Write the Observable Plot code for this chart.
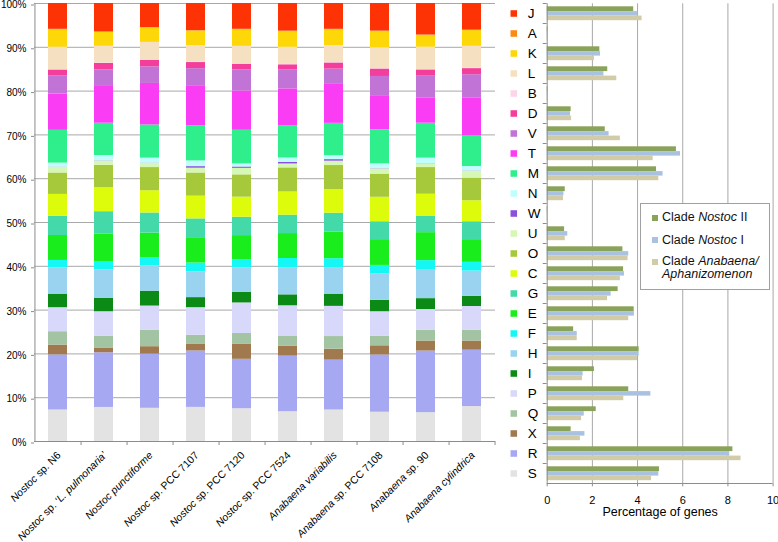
<!DOCTYPE html>
<html>
<head>
<meta charset="utf-8">
<script src="https://cdn.jsdelivr.net/npm/d3@7"></script>
<script src="https://cdn.jsdelivr.net/npm/@observablehq/plot@0.6"></script>
<style>
  html, body { margin: 0; padding: 0; background: #fff; }
  #wrap { position: relative; width: 778px; height: 542px; overflow: hidden; font-family: "Liberation Sans", Arial, sans-serif; }
  #left { position: absolute; left: 0; top: 0; }
  #right { position: absolute; left: 500px; top: 0; }
  #cladeLegend { position: absolute; left: 640px; top: 203px; width: 128px; height: 85px; border: 1px solid #a0a0a0; background: #fff; font-size: 12.5px; color: #111; }
  .li { position: absolute; left: 21px; line-height: 13px; white-space: nowrap; }
  .sw { position: absolute; left: 11px; width: 6px; height: 6px; }
</style>
</head>
<body>
<div id="wrap">
  <div id="left"></div>
  <div id="right"></div>
  <div id="cladeLegend"></div>
</div>
<script>
// COG categories, bottom-to-top stacking order
const stackOrder = ["S","R","X","Q","P","I","H","F","E","G","C","O","U","W","N","M","T","V","D","B","L","K","A","J"];
const catColors = ["#e3e3e3","#a6a8f2","#a07a4e","#a2c4a2","#d8d8fa","#0b8a16","#9ad3ef","#14f7f5","#19ee1c","#43d9a8","#dcfc0c","#a5c93a","#d6f8b6","#8a4fdc","#c0fefe","#2fef8c","#fa3cf5","#c274d6","#f43e9c","#fdd5ea","#f6e0c2","#fdd707","#fb8a12","#fd3305"];

const strains = ["Nostoc sp. N6","Nostoc sp. \u2018L. pulmonaria\u2019","Nostoc punctiforme","Nostoc sp. PCC 7107","Nostoc sp. PCC 7120","Nostoc sp. PCC 7524","Anabaena variabilis","Anabaena sp. PCC 7108","Anabaena sp. 90","Anabaena cylindrica"];

// shares (%) per strain, in stackOrder
const n6          = [7.2,12.6,2.25,3.05,5.5,3.1,6.0,1.7,5.7,4.4,5.0,4.9,1.3,0.05,0.9,7.5,8.3,4.1,1.4,0.1,5.1,4.0,0.1,5.9];
const lPulmonaria = [7.8,12.5,1.0,2.8,5.6,3.1,6.5,1.9,6.3,5.1,5.5,5.1,1.0,0.05,1.2,7.4,8.6,3.6,1.5,0.1,3.8,3.2,0.1,6.5];
const punctiforme = [7.6,12.4,1.7,3.8,5.5,3.4,5.8,1.8,5.7,4.6,5.1,5.3,1.0,0.05,1.1,7.6,9.5,3.8,1.5,0.1,4.0,3.3,0.1,5.5];
const pcc7107     = [7.8,12.9,1.6,2.0,6.3,2.3,5.9,2.0,5.8,4.3,5.2,5.3,1.1,0.35,1.3,8.0,9.2,3.9,1.4,0.1,3.8,3.3,0.1,6.2];
const pcc7120     = [7.5,11.3,3.5,2.4,7.0,2.4,5.6,1.9,5.5,4.2,4.6,5.1,1.5,0.3,0.7,7.7,9.0,4.8,1.3,0.1,4.0,3.8,0.1,5.9];
const pcc7524     = [6.8,12.7,2.3,2.3,6.9,2.5,6.2,2.1,5.7,4.2,5.3,5.5,0.9,0.35,1.0,7.4,8.4,4.3,1.2,0.1,3.9,3.6,0.1,6.3];
const variabilis  = [7.2,11.4,2.5,2.9,6.9,2.8,6.1,2.0,6.1,4.3,5.4,5.5,1.0,0.35,0.9,7.4,8.9,3.5,1.4,0.1,3.9,3.6,0.1,5.9];
const pcc7108     = [6.7,13.1,2.1,2.2,5.6,2.6,6.1,1.9,5.9,4.1,5.6,5.3,1.2,0.05,1.1,7.8,7.8,4.4,1.7,0.1,4.8,3.7,0.1,6.3];
const sp90        = [6.6,14.1,2.3,2.5,4.7,2.5,6.5,2.2,6.4,3.7,5.1,6.1,0.9,0.05,1.2,8.0,5.7,5.2,1.3,0.1,5.1,2.7,0.1,7.2];
const cylindrica  = [8.0,12.9,2.1,2.5,5.4,2.3,5.8,2.0,5.2,4.1,4.8,5.2,1.6,0.05,1.0,7.0,8.6,5.4,1.4,0.1,5.0,3.6,0.1,6.1];
const strainValues = [n6,lPulmonaria,punctiforme,pcc7107,pcc7120,pcc7524,variabilis,pcc7108,sp90,cylindrica];

// percentage of genes per clade, in stackOrder
const cladeNostocII  = [4.97,8.22,1.06,2.17,3.61,2.09,4.07,1.17,3.85,3.14,3.38,3.35,0.77,0.02,0.80,4.84,5.72,2.57,1.06,0.03,2.68,2.33,0.03,3.83];
const cladeNostocI   = [4.94,8.08,1.67,1.64,4.59,1.59,4.07,1.33,3.86,2.83,3.42,3.61,0.91,0.02,0.74,5.13,5.90,2.74,1.03,0.03,2.51,2.36,0.03,4.01];
const cladeAnabaena  = [4.62,8.58,1.47,1.52,3.39,1.56,4.00,1.33,3.61,2.67,3.24,3.58,0.80,0.02,0.72,4.94,4.69,3.24,1.08,0.03,3.08,2.09,0.03,4.20];
const cladeColors = ["#8aa35a","#a8c2e0","#d2cba8"];
const xTicks = [0,2,4,6,8,10];

const FONT = "'Liberation Sans', Arial, sans-serif";
const AXIS = "#8c8c8c";
const GRID = "#a8a8a8";

// ---------- left: stacked 100% bars ----------
const rowsL = strains.flatMap((s, i) => stackOrder.map((c, j) => ({strain: s, cat: c, value: strainValues[i][j]})));
const halfStep = 461 / 10 / 2;

const left = Plot.plot({
  width: 500, height: 542,
  marginLeft: 34, marginRight: 5, marginTop: 3, marginBottom: 101,
  style: {fontFamily: FONT, fontSize: "10.5px", color: "#000", background: "transparent", overflow: "visible"},
  x: {domain: strains, paddingInner: 0.59, paddingOuter: 0.295},
  y: {domain: [0, 1]},
  color: {domain: stackOrder, range: catColors},
  marks: [
    Plot.gridY({ticks: 10, stroke: GRID, strokeOpacity: 1}),
    Plot.barY(rowsL, Plot.stackY({offset: "normalize"}, {x: "strain", y: "value", fill: "cat"})),
    Plot.ruleX([strains[0]], {x: d => d, dx: -halfStep, stroke: AXIS}),
    Plot.ruleY([0], {stroke: AXIS}),
    Plot.ruleX(strains, {x: d => d, dx: halfStep, y1: 0, y2: 0, insetBottom: -4, stroke: AXIS}),
    Plot.axisY({ticks: 10, tickFormat: d3.format(".0%"), tickSize: 3, tickPadding: 5, label: null, stroke: AXIS, fontSize: 10, dy: 1.5}),
    Plot.axisX({tickSize: 0, tickRotate: -45, tickPadding: 12, dx: 1, label: null, fontSize: 10.5})
  ]
});
document.getElementById("left").appendChild(left);

// mixed italic / upright strain names
const upright = w => w === "sp." || w === "PCC" || /\d/.test(w);
d3.select(left).selectAll('g[aria-label="x-axis tick label"] text').each(function () {
  const t = this.textContent;
  const sel = d3.select(this);
  sel.text(null);
  t.split(" ").forEach((w, i) => {
    sel.append("tspan").attr("font-style", upright(w) ? "normal" : "italic").text((i ? " " : "") + w);
  });
});

// ---------- right: horizontal grouped bars ----------
const rowOrder = stackOrder.slice().reverse();
const mk = arr => stackOrder.map((c, j) => ({cat: c, value: arr[j]}));

const right = Plot.plot({
  width: 278, height: 542,
  marginLeft: 46.7, marginRight: 5.4, marginTop: 3.3, marginBottom: 58.7,
  style: {fontFamily: FONT, fontSize: "11px", color: "#000", background: "transparent", overflow: "visible"},
  x: {domain: [0, 10]},
  y: {domain: rowOrder, padding: 0, axis: null},
  color: {domain: stackOrder, range: catColors},
  marks: [
    Plot.gridX({ticks: xTicks.slice(1), stroke: GRID, strokeOpacity: 1}),
    Plot.barX(mk(cladeNostocII), {x: "value", y: "cat", fill: cladeColors[0], insetTop: 3.3, insetBottom: 11.9}),
    Plot.barX(mk(cladeNostocI), {x: "value", y: "cat", fill: cladeColors[1], insetTop: 8.1, insetBottom: 7.4}),
    Plot.barX(mk(cladeAnabaena), {x: "value", y: "cat", fill: cladeColors[2], insetTop: 12.6, insetBottom: 2.8}),
    Plot.ruleX([0], {stroke: AXIS}),
    Plot.ruleY([rowOrder[rowOrder.length - 1]], {y: d => d, dy: 10, stroke: AXIS}),
    Plot.ruleY(rowOrder, {y: d => d, dy: -10, x1: 0, x2: 0, insetLeft: -4, stroke: AXIS}),
    Plot.axisX({ticks: xTicks, tickSize: 3, tickPadding: 9, label: null, stroke: AXIS}),
    Plot.text(["Percentage of genes"], {text: d => d, frameAnchor: "bottom", dy: 32, fontSize: 12.5}),
    Plot.dot(rowOrder, {y: d => d, frameAnchor: "left", dx: -33.4, symbol: "square", r: 3.7, fill: d => d, stroke: null}),
    Plot.text(rowOrder, {y: d => d, text: d => d, frameAnchor: "left", dx: -19.5, textAnchor: "start", fontSize: 13.5})
  ]
});
document.getElementById("right").appendChild(right);

// ---------- clade legend ----------
const legendItems = [
  {color: cladeColors[0], html: "Clade <i>Nostoc</i> II", top: 7},
  {color: cladeColors[1], html: "Clade <i>Nostoc</i> I", top: 29.5},
  {color: cladeColors[2], html: "Clade <i>Anabaena/</i><br><i>Aphanizomenon</i>", top: 51}
];
const lg = document.getElementById("cladeLegend");
legendItems.forEach(it => {
  const sw = document.createElement("div");
  sw.className = "sw"; sw.style.background = it.color; sw.style.top = (it.top + 3.5) + "px";
  lg.appendChild(sw);
  const tx = document.createElement("div");
  tx.className = "li"; tx.style.top = it.top + "px"; tx.innerHTML = it.html;
  lg.appendChild(tx);
});
</script>
</body>
</html>
